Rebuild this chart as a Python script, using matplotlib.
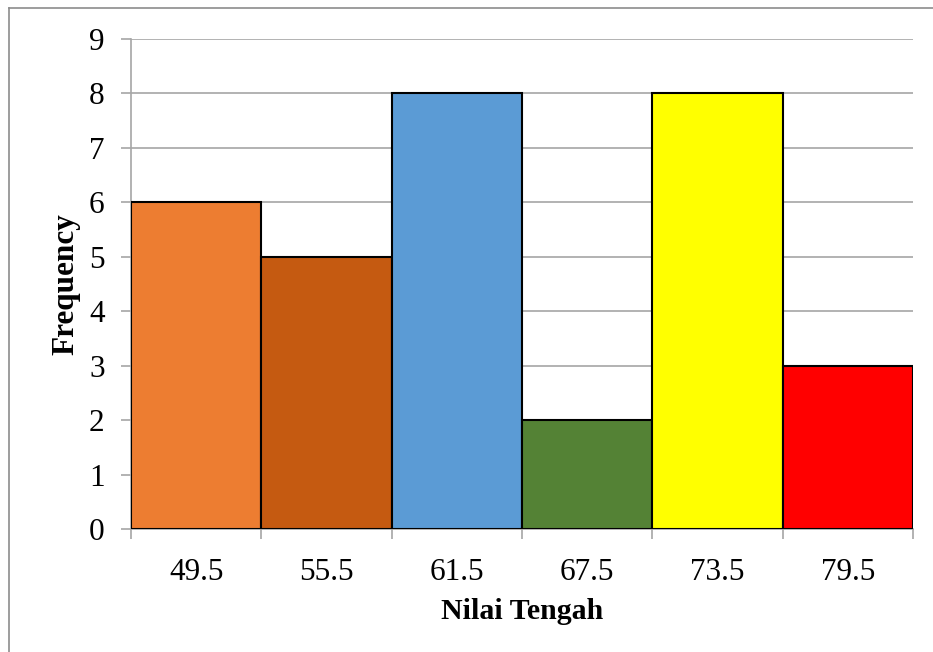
import matplotlib
matplotlib.use("Agg")
import matplotlib.pyplot as plt
from matplotlib.lines import Line2D

categories = ["49.5", "55.5", "61.5", "67.5", "73.5", "79.5"]
frequency = [6, 5, 8, 2, 8, 3]
colors = ["#ED7D31", "#C55A11", "#5B9BD5", "#548235", "#FFFF00", "#FF0000"]

plt.rcParams['font.family'] = ['Liberation Serif', 'DejaVu Serif']

W, H = 933, 652
fig = plt.figure(figsize=(W / 100, H / 100), dpi=100)
ax = fig.add_axes([131 / W, 1 - 529 / H, (913 - 131) / W, (529 - 39) / H])

x = list(range(len(categories)))
ax.bar(x, frequency, width=1.0, color=colors, edgecolor="black", linewidth=1.5, zorder=3)

ax.set_xlim(-0.5, len(categories) - 0.5)
ax.set_ylim(0, 9)
ax.set_yticks(range(0, 10))
ax.yaxis.grid(True, color="#A6A6A6", linewidth=1.2, zorder=0)
ax.set_axisbelow(True)

ax.set_xticks(x)
ax.set_xticklabels(categories)
ax.set_xticks([i - 0.5 for i in range(len(categories) + 1)], minor=True)
ax.tick_params(axis="x", which="major", length=0, pad=21, labelsize=22.5)
ax.tick_params(axis="x", which="minor", length=7, width=1.2, color="#A6A6A6")
ax.tick_params(axis="y", length=7, width=1.2, color="#A6A6A6", pad=12, labelsize=22.5)

for s in ["top", "right"]:
    ax.spines[s].set_visible(False)
for s in ["left", "bottom"]:
    ax.spines[s].set_color("#A6A6A6")
    ax.spines[s].set_linewidth(1.2)

ax.set_xlabel("Nilai Tengah", fontsize=21.5, fontweight="bold", labelpad=8)
ax.set_ylabel("Frequency", fontsize=22.5, fontweight="bold", labelpad=6)

fig.add_artist(Line2D([9 / W, 1], [1 - 8 / H, 1 - 8 / H], color="#8C8C8C", linewidth=1.2, transform=fig.transFigure))
fig.add_artist(Line2D([9 / W, 9 / W], [1 - 8 / H, 0], color="#8C8C8C", linewidth=1.2, transform=fig.transFigure))

fig.savefig("out.png", dpi=100)
